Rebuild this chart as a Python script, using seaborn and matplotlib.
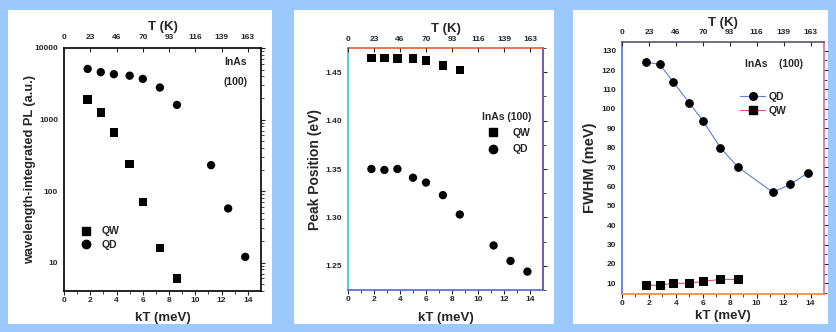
import numpy as np
import pandas as pd
import matplotlib
matplotlib.use("Agg")
import matplotlib.pyplot as plt
import seaborn as sns
from matplotlib.patches import Rectangle
from matplotlib.lines import Line2D

sns.set_style("white")
plt.rcParams['font.family'] = ['Liberation Sans', 'DejaVu Sans']
plt.rcParams['font.weight'] = 'bold'

# ---- data ----
kt_qd = [1.8, 2.8, 3.8, 5.0, 6.0, 7.3, 8.6, 11.2, 12.5, 13.8]
kt_qw = [1.8, 2.8, 3.8, 5.0, 6.0, 7.3, 8.6]

pl_qd = [5100, 4600, 4300, 4100, 3700, 2800, 1600, 230, 57, 12]
pl_qw = [1900, 1250, 660, 240, 70, 16, 6]

peak_qd = [1.350, 1.349, 1.350, 1.341, 1.336, 1.323, 1.303, 1.271, 1.255, 1.244]
peak_qw = [1.465, 1.465, 1.464, 1.464, 1.462, 1.457, 1.452]

fwhm_qd = [124, 123, 114, 103, 94, 80, 70, 57, 61, 67]
fwhm_qw = [9, 9, 10, 10, 11, 12, 12]

kt_ticks = [0, 2, 4, 6, 8, 10, 12, 14]
t_labels = ['0', '23', '46', '70', '93', '116', '139', '163']


def long_df(yqd, yqw):
    return pd.concat([
        pd.DataFrame({'kT': kt_qd, 'y': yqd, 'series': 'QD'}),
        pd.DataFrame({'kT': kt_qw, 'y': yqw, 'series': 'QW'}),
    ], ignore_index=True)


def style_axes(ax, ylabel, ysize, ylab_x, xlab_y, tlab_y, top_pad, spine_colors=None):
    ax.set_xlim(0, 15)
    ax.set_xticks(kt_ticks)
    ax.set_xticks(range(1, 15, 2), minor=True)
    ax.tick_params(axis='both', which='major', labelsize=6, length=3, width=0.8,
                   direction='out', top=False, right=True, pad=1.2)
    ax.tick_params(axis='both', which='minor', length=1.8, width=0.6, right=True)
    ax.tick_params(axis='y', which='both', right=True)
    for lab in ax.get_xticklabels() + ax.get_yticklabels():
        lab.set_fontweight('bold')
    ax.set_xlabel('kT (meV)', fontsize=9.5, fontweight='bold')
    ax.xaxis.set_label_coords(0.5, xlab_y)
    ax.set_ylabel(ylabel, fontsize=ysize, fontweight='bold')
    ax.yaxis.set_label_coords(ylab_x, 0.5)
    for side, sp in ax.spines.items():
        sp.set_visible(True)
        sp.set_linewidth(1.2)
        sp.set_color('black' if spine_colors is None else spine_colors[side])
    top = ax.twiny()
    top.set_xlim(ax.get_xlim())
    top.set_xticks(kt_ticks)
    top.set_xticklabels(t_labels, fontsize=6, fontweight='bold')
    top.tick_params(axis='x', length=3, width=0.8, direction='in', pad=top_pad)
    top.set_xlabel('T (K)', fontsize=9.5, fontweight='bold')
    top.xaxis.set_label_coords(0.5, tlab_y)
    for sp in top.spines.values():
        sp.set_visible(False)
    return top


fig = plt.figure(figsize=(8.36, 3.32), dpi=100)
fig.patch.set_facecolor('#9cc9fb')
for x0, x1 in [(8, 272), (294, 554), (573, 828)]:
    fig.patches.append(Rectangle((x0 / 836, 8 / 332), (x1 - x0) / 836, 314 / 332,
                                 transform=fig.transFigure, facecolor='white',
                                 edgecolor='none', zorder=-10))

# ---- panel 1: integrated PL ----
ax1 = fig.add_axes([64 / 836, 41 / 332, 197 / 836, 243 / 332])
sns.scatterplot(data=long_df(pl_qd, pl_qw), x='kT', y='y', style='series',
                markers={'QD': 'o', 'QW': 's'}, color='black', s=36,
                edgecolor='none', legend=False, ax=ax1)
ax1.set_yscale('log')
ax1.set_ylim(4, 10000)
ax1.set_yticks([10, 100, 1000, 10000])
ax1.set_yticklabels(['10', '100', '1000', '10000'])
style_axes(ax1, 'wavelength-integrated PL (a.u.)', 9.2, -0.14, -0.086, 1.074, 5)
ax1.text(0.93, 0.942, 'InAs', transform=ax1.transAxes, ha='right', va='center',
         fontsize=7.5, fontweight='bold')
ax1.text(0.93, 0.86, '(100)', transform=ax1.transAxes, ha='right', va='center',
         fontsize=7.5, fontweight='bold')
h1 = [Line2D([], [], ls='none', marker='s', color='black', ms=5.5),
      Line2D([], [], ls='none', marker='o', color='black', ms=6)]
ax1.legend(h1, ['QW', 'QD'], loc='lower left', bbox_to_anchor=(0.01, 0.13), frameon=False,
           prop={'size': 7.5, 'weight': 'bold'}, handletextpad=0.5, labelspacing=0.35)

# ---- panel 2: peak position ----
ax2 = fig.add_axes([348 / 836, 42 / 332, 195 / 836, 242 / 332])
sns.scatterplot(data=long_df(peak_qd, peak_qw), x='kT', y='y', style='series',
                markers={'QD': 'o', 'QW': 's'}, color='black', s=36,
                edgecolor='none', legend=False, ax=ax2)
ax2.set_ylim(1.226, 1.475)
ax2.set_yticks([1.25, 1.30, 1.35, 1.40, 1.45])
ax2.set_yticklabels(['1.25', '1.30', '1.35', '1.40', '1.45'])
ax2.set_yticks(np.arange(1.225, 1.476, 0.025), minor=True)
style_axes(ax2, 'Peak Position (eV)', 10, -0.133, -0.091, 1.066, 3.6,
           {'top': '#e0603a', 'left': '#33c9c9', 'bottom': '#5560e8', 'right': '#6a3a9a'})
h2 = [Line2D([], [], ls='none', marker='s', color='black', ms=5.5),
      Line2D([], [], ls='none', marker='o', color='black', ms=6)]
leg2 = ax2.legend(h2, ['QW', 'QD'], title='InAs (100)', loc='upper left',
                  bbox_to_anchor=(0.64, 0.775), frameon=False,
                  prop={'size': 7.5, 'weight': 'bold'}, handletextpad=0.9, labelspacing=0.6,
                  title_fontproperties={'size': 7.5, 'weight': 'bold'})
leg2._legend_box.align = 'left'

# ---- panel 3: FWHM ----
ax3 = fig.add_axes([622 / 836, 38 / 332, 202 / 836, 252 / 332])
sns.lineplot(data=long_df(fwhm_qd, fwhm_qw), x='kT', y='y', hue='series', style='series',
             hue_order=['QD', 'QW'], style_order=['QD', 'QW'],
             palette={'QD': '#5b7fd6', 'QW': '#e0507a'}, markers={'QD': 'o', 'QW': 's'},
             dashes=False, linewidth=0.8, markersize=5.5, mfc='black', mec='black',
             legend=False, ax=ax3)
ax3.set_ylim(4.5, 134.5)
ax3.set_yticks(range(10, 131, 10))
ax3.set_yticks(range(5, 135, 5), minor=True)
style_axes(ax3, 'FWHM (meV)', 10.5, -0.124, -0.063, 1.063, 4,
           {'top': '#555570', 'left': '#4477ee', 'bottom': '#ee8833', 'right': '#dd66aa'})
ax3.text(0.61, 0.913, 'InAs    (100)', transform=ax3.transAxes, va='center',
         fontsize=7.5, fontweight='bold')
h3 = [Line2D([], [], color='#5b7fd6', lw=0.8, marker='o', mfc='black', mec='black', ms=5.5),
      Line2D([], [], color='#e0507a', lw=0.8, marker='s', mfc='black', mec='black', ms=5.5)]
ax3.legend(h3, ['QD', 'QW'], loc='upper left', bbox_to_anchor=(0.54, 0.84), frameon=False,
           prop={'size': 7.5, 'weight': 'bold'}, handlelength=2.4, handletextpad=0.3,
           labelspacing=0.4)

fig.savefig('out.png', dpi=100, facecolor=fig.get_facecolor())
